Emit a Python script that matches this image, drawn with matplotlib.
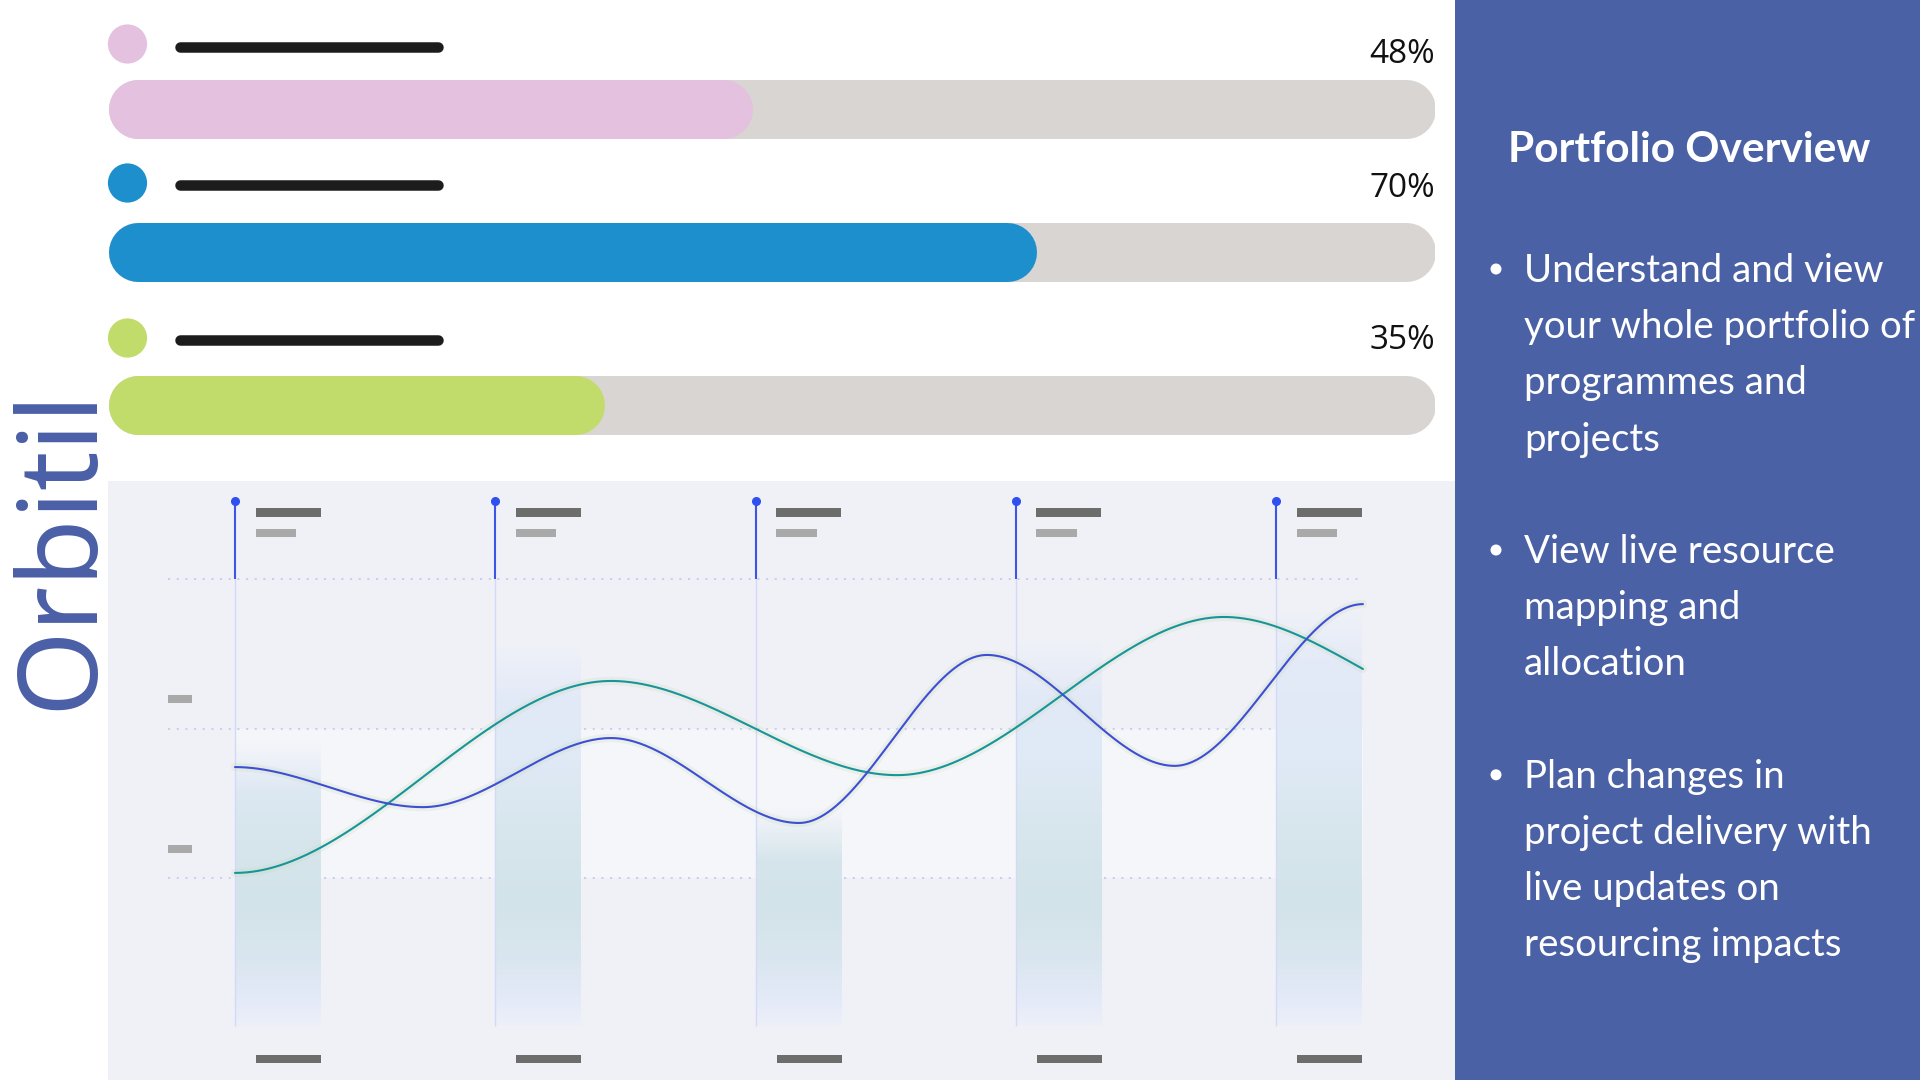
import numpy as np
import matplotlib
matplotlib.use("Agg")
import matplotlib.pyplot as plt
from matplotlib.patches import Rectangle, Circle
from matplotlib.colors import to_rgb

# ---------------- data ----------------
progress_labels = ["48%", "70%", "35%"]              # printed percentages
progress_fill = [48.6, 70.0, 37.4]                   # fill length (% of track)
progress_colors = ["#e4c1de", "#1d8fcd", "#c1dc6b"]

column_x = [0, 1, 2, 3, 4]                           # milestone columns
column_top = [46.2, 77.3, 23.7, 78.6, 89.0]          # shaded column heights
column_bottom = -49.5

blue_x = [0, 0.722, 1.445, 2.167, 2.889, 3.611, 4.334]
blue_y = [37.1, 23.7, 46.8, 18.4, 74.6, 37.5, 91.6]
teal_x = [0, 1.445, 2.544, 3.80, 4.334]
teal_y = [1.7, 65.9, 34.4, 87.3, 69.9]

grid_values = [0, 50, 100]

title = "Portfolio Overview"
bullets = [
    ["Understand and view", "your whole portfolio of", "programmes and", "projects"],
    ["View live resource", "mapping and", "allocation"],
    ["Plan changes in", "project delivery with", "live updates on", "resourcing impacts"],
]
logo_text = "Orbitil"

# ---------------- layout (pixels) ----------------
W, H = 1920, 1080
fig = plt.figure(figsize=(W / 100, H / 100), dpi=100)
fig.patch.set_facecolor("white")


def frac(x0, y0, x1, y1):
    return [x0 / W, 1 - y1 / H, (x1 - x0) / W, (y1 - y0) / H]


PT = 72 / 100  # points per pixel

canvas = fig.add_axes([0, 0, 1, 1])
canvas.set_xlim(0, W)
canvas.set_ylim(H, 0)
canvas.axis("off")
canvas.set_zorder(0)

# chart panel background
PANEL = (108, 481, 1455, 1080)
canvas.add_patch(Rectangle((PANEL[0], PANEL[1]), PANEL[2] - PANEL[0], PANEL[3] - PANEL[1],
                           facecolor="#eff1f7", edgecolor="none", zorder=0))

# right info panel
canvas.add_patch(Rectangle((1455, 0), W - 1455, H, facecolor="#4b61a5", edgecolor="none", zorder=0))
canvas.text(1508, 162, title, color="white", fontsize=30.5, fontweight="bold",
            family=["Lato", "DejaVu Sans"], va="baseline", ha="left")
line_gap = 56.2
k = 0
for b in bullets:
    base = 282 + line_gap * k
    canvas.add_patch(Circle((1496, base - 13), 5.5, facecolor="white", edgecolor="none", zorder=3))
    for j, line in enumerate(b):
        canvas.text(1524, base + line_gap * j, line, color="white", fontsize=27.6,
                    family=["Lato", "DejaVu Sans"], va="baseline", ha="left")
    k += len(b) + 1

# logo (vertical)
canvas.text(91, 710, logo_text, rotation=90, rotation_mode="anchor", ha="left", va="baseline",
            fontsize=79, fontweight="light", color="#4a5fa6", family=["Noto Sans", "DejaVu Sans"])

# ---------------- progress bars ----------------
row_centers = [109, 252, 405]
dot_centers = [44, 183, 338]
label_centers = [46.5, 185, 340]
pct_baselines = [63, 197, 349]
TRACK = (108, 1435)
bar_h = 59

for c, dy, ly, pb, lab in zip(progress_colors, dot_centers, label_centers, pct_baselines, progress_labels):
    canvas.add_patch(Circle((127.5, dy), 19.6, facecolor=c, edgecolor="none", zorder=3))
    canvas.plot([179.5, 437.5], [ly, ly], color="#1c1c1c", lw=10.5 * PT, solid_capstyle="round", zorder=3)
    canvas.text(TRACK[1], pb, lab, ha="right", va="baseline", fontsize=24,
                family=["Open Sans", "DejaVu Sans"], color="#111111")

bax = fig.add_axes(frac(TRACK[0], 0, TRACK[1], 481))
bax.set_xlim(0, 100)
bax.set_ylim(481, 0)
bax.axis("off")
bax.patch.set_alpha(0)
pad = (bar_h / 2) / (TRACK[1] - TRACK[0]) * 100
for yc, v, c in zip(row_centers, progress_fill, progress_colors):
    bax.plot([pad, 100 - pad], [yc, yc], color="#d8d5d2", lw=bar_h * PT, solid_capstyle="round", zorder=1)
    bax.plot([pad, max(v - pad, pad)], [yc, yc], color=c, lw=bar_h * PT, solid_capstyle="round", zorder=2)

# ---------------- line chart ----------------
STEM0, STEP = 235.0, 260.25      # px of column 0, px per column unit
BASE, VPX = 878.0, 2.99          # px of value 0, px per value unit

cax = fig.add_axes(frac(*PANEL))
cax.axis("off")
cax.patch.set_alpha(0)
xlim = ((PANEL[0] - STEM0) / STEP, (PANEL[2] - STEM0) / STEP)
ylim = ((BASE - PANEL[3]) / VPX, (BASE - PANEL[1]) / VPX)


def u(px):
    return (px - STEM0) / STEP


def val(py):
    return (BASE - py) / VPX


x_end = max(blue_x[-1], teal_x[-1])

# lighter band between lower gridlines
cax.add_patch(Rectangle((0, grid_values[0]), x_end, grid_values[1] - grid_values[0],
                        facecolor="#f5f6fa", edgecolor="none", zorder=0))

# dotted gridlines
cax.hlines(grid_values, u(167.6), x_end, colors="#c7cdf1", linestyles=(0, (1.2, 3.6)), lw=1.3, zorder=1)

# y label placeholders
for g in grid_values[:2]:
    cax.add_patch(Rectangle((u(167.6), g + 8.4), u(192) - u(167.6), 2.7,
                            facecolor="#a9a9a9", edgecolor="none", zorder=2))

# shaded columns (gradient)
stops_px = np.array([560, 760, 840, 900, 960, 1000, 1026])
stops_c = np.array([to_rgb(c) for c in ["#e6ebfa", "#e0e9f6", "#d6e6ec", "#d2e3e9",
                                          "#dae6ef", "#e4eaf8", "#edf0f9"]])
col_w = 86 / STEP
for cx, top in zip(column_x, column_top):
    n = 300
    vals = np.linspace(top, column_bottom, n)
    py = BASE - vals * VPX
    rgba = np.zeros((n, 1, 4))
    for ch in range(3):
        rgba[:, 0, ch] = np.interp(py, stops_px, stops_c[:, ch])
    a = np.clip((py - py[0]) / 55.0, 0, 1)
    rgba[:, 0, 3] = a
    cax.imshow(rgba, extent=[cx, cx + col_w, column_bottom, top], aspect="auto",
               interpolation="bilinear", origin="upper", zorder=1)

# stems
cax.vlines(column_x, column_bottom, grid_values[-1], colors="#d3daf5", lw=1.0, zorder=2)
stem_top = val(501)
cax.vlines(column_x, grid_values[-1], stem_top, colors="#3c55e6", lw=1.5, zorder=3)
cax.plot(column_x, [stem_top] * len(column_x), "o", color="#2f4ff0", ms=5.5, zorder=4)

# header / footer placeholders
for cx in column_x:
    cax.add_patch(Rectangle((cx + u(255.5) - u(235), val(517)), (320.5 - 255.5) / STEP, 9 / VPX,
                            facecolor="#6d6d6b", edgecolor="none", zorder=3))
    cax.add_patch(Rectangle((cx + u(255.5) - u(235), val(537)), (296 - 255.5) / STEP, 8 / VPX,
                            facecolor="#a9a9a9", edgecolor="none", zorder=3))
    cax.add_patch(Rectangle((cx + u(256) - u(235), val(1063)), (321 - 256) / STEP, 8 / VPX,
                            facecolor="#6d6d6b", edgecolor="none", zorder=3))


def hermite(xs, ys, end_mode, n=600):
    xs = np.asarray(xs, float)
    ys = np.asarray(ys, float)
    h = np.diff(xs)
    d = np.diff(ys) / h
    m = np.zeros_like(ys)
    for i in range(1, len(xs) - 1):
        if d[i - 1] * d[i] > 0:
            w1 = 2 * h[i] + h[i - 1]
            w2 = h[i] + 2 * h[i - 1]
            m[i] = (w1 + w2) / (w1 / d[i - 1] + w2 / d[i])
    m[0] = 0.0
    m[-1] = 0.0 if end_mode == "flat" else (3 * d[-1] - m[-2]) / 2
    xx = np.linspace(xs[0], xs[-1], n)
    idx = np.clip(np.searchsorted(xs, xx, side="right") - 1, 0, len(xs) - 2)
    t = (xx - xs[idx]) / h[idx]
    h00 = 2 * t**3 - 3 * t**2 + 1
    h10 = t**3 - 2 * t**2 + t
    h01 = -2 * t**3 + 3 * t**2
    h11 = t**3 - t**2
    yy = h00 * ys[idx] + h10 * h[idx] * m[idx] + h01 * ys[idx + 1] + h11 * h[idx] * m[idx + 1]
    return xx, yy


for xs, ys, col, mode in [(teal_x, teal_y, "#17959a", "free"), (blue_x, blue_y, "#3d4fd6", "flat")]:
    xx, yy = hermite(xs, ys, mode)
    cax.plot(xx, yy, color="#c8d8b0", lw=6, alpha=0.22, solid_capstyle="round", zorder=5)
    cax.plot(xx, yy, color=col, lw=1.5, solid_capstyle="round", zorder=6)

cax.set_xlim(*xlim)
cax.set_ylim(*ylim)

fig.savefig("out.png", dpi=100, facecolor="white")
